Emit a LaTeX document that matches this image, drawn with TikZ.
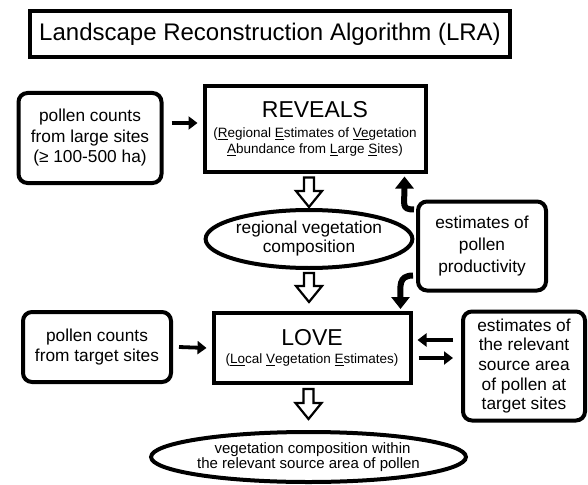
\documentclass[tikz,border=0pt]{standalone}
\usepackage{fontspec}
\setmainfont{Liberation Sans}
\usetikzlibrary{arrows.meta,calc,shapes.geometric}

% hollow block arrow pointing down, from #1 to #2
\newcommand\hollowdown[2]{%
  \draw[hollow] let \p1=(#1), \p2=(#2) in
    (\x1-5pt,\y1) -- (\x1-5pt,\y2+16pt) -- (\x1-13pt,\y2+16pt) -- (\x1,\y2)
    -- (\x1+13pt,\y2+16pt) -- (\x1+5pt,\y2+16pt) -- (\x1+5pt,\y1) -- cycle;}

\begin{document}
\begin{tikzpicture}[x=1pt,y=-1pt,
  box/.style={draw,line width=4pt,align=center,inner sep=0pt,font=\fontsize{17.3}{20.5}\selectfont},
  rbox/.style={box,rounded corners=9pt},
  oval/.style={ellipse,draw,line width=4pt,align=center,inner sep=0pt},
  arr/.style={line width=3.8pt,-{Triangle[length=9pt,width=13pt]}},
  curv/.style={line width=6pt,-{Triangle[length=12pt,width=18pt]}},
  hollow/.style={draw,fill=white,line width=2.2pt,line join=miter}]
  \useasboundingbox (0,0) rectangle (588,484);

  \node[box,minimum width=480pt,minimum height=46pt,font=\fontsize{24}{28}\selectfont] (title) at (270,34)
    {Landscape Reconstruction Algorithm (LRA)};

  % upper row
  \node[rbox,minimum width=143pt,minimum height=90pt] (large) at (90,138)
    {pollen counts\\from large sites\\(≥ 100-500 ha)};
  \node[box,minimum width=221pt,minimum height=85pt,font=\fontsize{13.5}{15.5}\selectfont] (reveals) at (315,129)
    {{\fontsize{23}{24}\selectfont REVEALS}\\[4.5pt]
     (\underline{R}egional \underline{E}stimates of \underline{Ve}getation\\
     \underline{A}bundance from \underline{L}arge \underline{S}ites)};
  \node[oval,minimum width=184pt,minimum height=58pt,font=\fontsize{17.3}{19}\selectfont] (regional) at (309,239)
    {regional vegetation\\composition};
  \node[rbox,minimum width=128pt,minimum height=89pt,font=\fontsize{17.3}{22}\selectfont] (prod) at (482,246)
    {estimates of\\pollen\\productivity};

  % lower row
  \node[rbox,minimum width=148pt,minimum height=70pt] (target) at (97,347)
    {pollen counts\\from target sites};
  \node[box,minimum width=197pt,minimum height=70pt,font=\fontsize{13.5}{15.5}\selectfont] (love) at (312,348)
    {{\fontsize{23}{24}\selectfont LOVE}\\[3pt]
     (\underline{Lo}cal \underline{V}egetation \underline{E}stimates)};
  \node[rbox,minimum width=122pt,minimum height=109pt,font=\fontsize{17.3}{19.7}\selectfont] (srcarea) at (524,366)
    {estimates of\\the relevant\\source area\\of pollen at\\target sites};
  \node[oval,minimum width=259pt,minimum height=50pt,font=\fontsize{15}{15.5}\selectfont] (vegcomp) at (308.5,457)
    {\hspace*{8pt}vegetation composition within\\the relevant source area of pollen};

  % connectors
  \coordinate (rowa) at (0,123);
  \draw[arr] ($(large.east |- rowa)+(8,0)$) -- ($(reveals.west |- rowa)+(-5,0)$);
  \draw[arr] ($(target.east)+(6,0)$) -- ($(love.west)+(-5,0)$);
  \draw[arr] ($(srcarea.west)+(-8,-26)$) -- ($(love.east)+(5,-8)$);
  \draw[arr] ($(love.east)+(6,10)$) -- ($(srcarea.west)+(-8,-8)$);
  \draw[curv] ($(prod.north west)+(-2,10)$) .. controls +(-13,0) and +(0,28) .. ($(reveals.south east)+(-23,3)$);
  \draw[curv] ($(prod.south west)+(-3,-17)$) .. controls +(-15,0) and +(0,-22) .. ($(love.north east)+(-12,-2)$);

  \hollowdown{$(reveals.south -| regional.north)+(0,4)$}{$(regional.north)+(0,-1)$}
  \hollowdown{$(regional.south)+(0,3)$}{$(love.north)+(0,-9)$}
  \hollowdown{$(love.south -| vegcomp.north)+(0,4)$}{$(vegcomp.north)+(0,-11)$}
\end{tikzpicture}
\end{document}
